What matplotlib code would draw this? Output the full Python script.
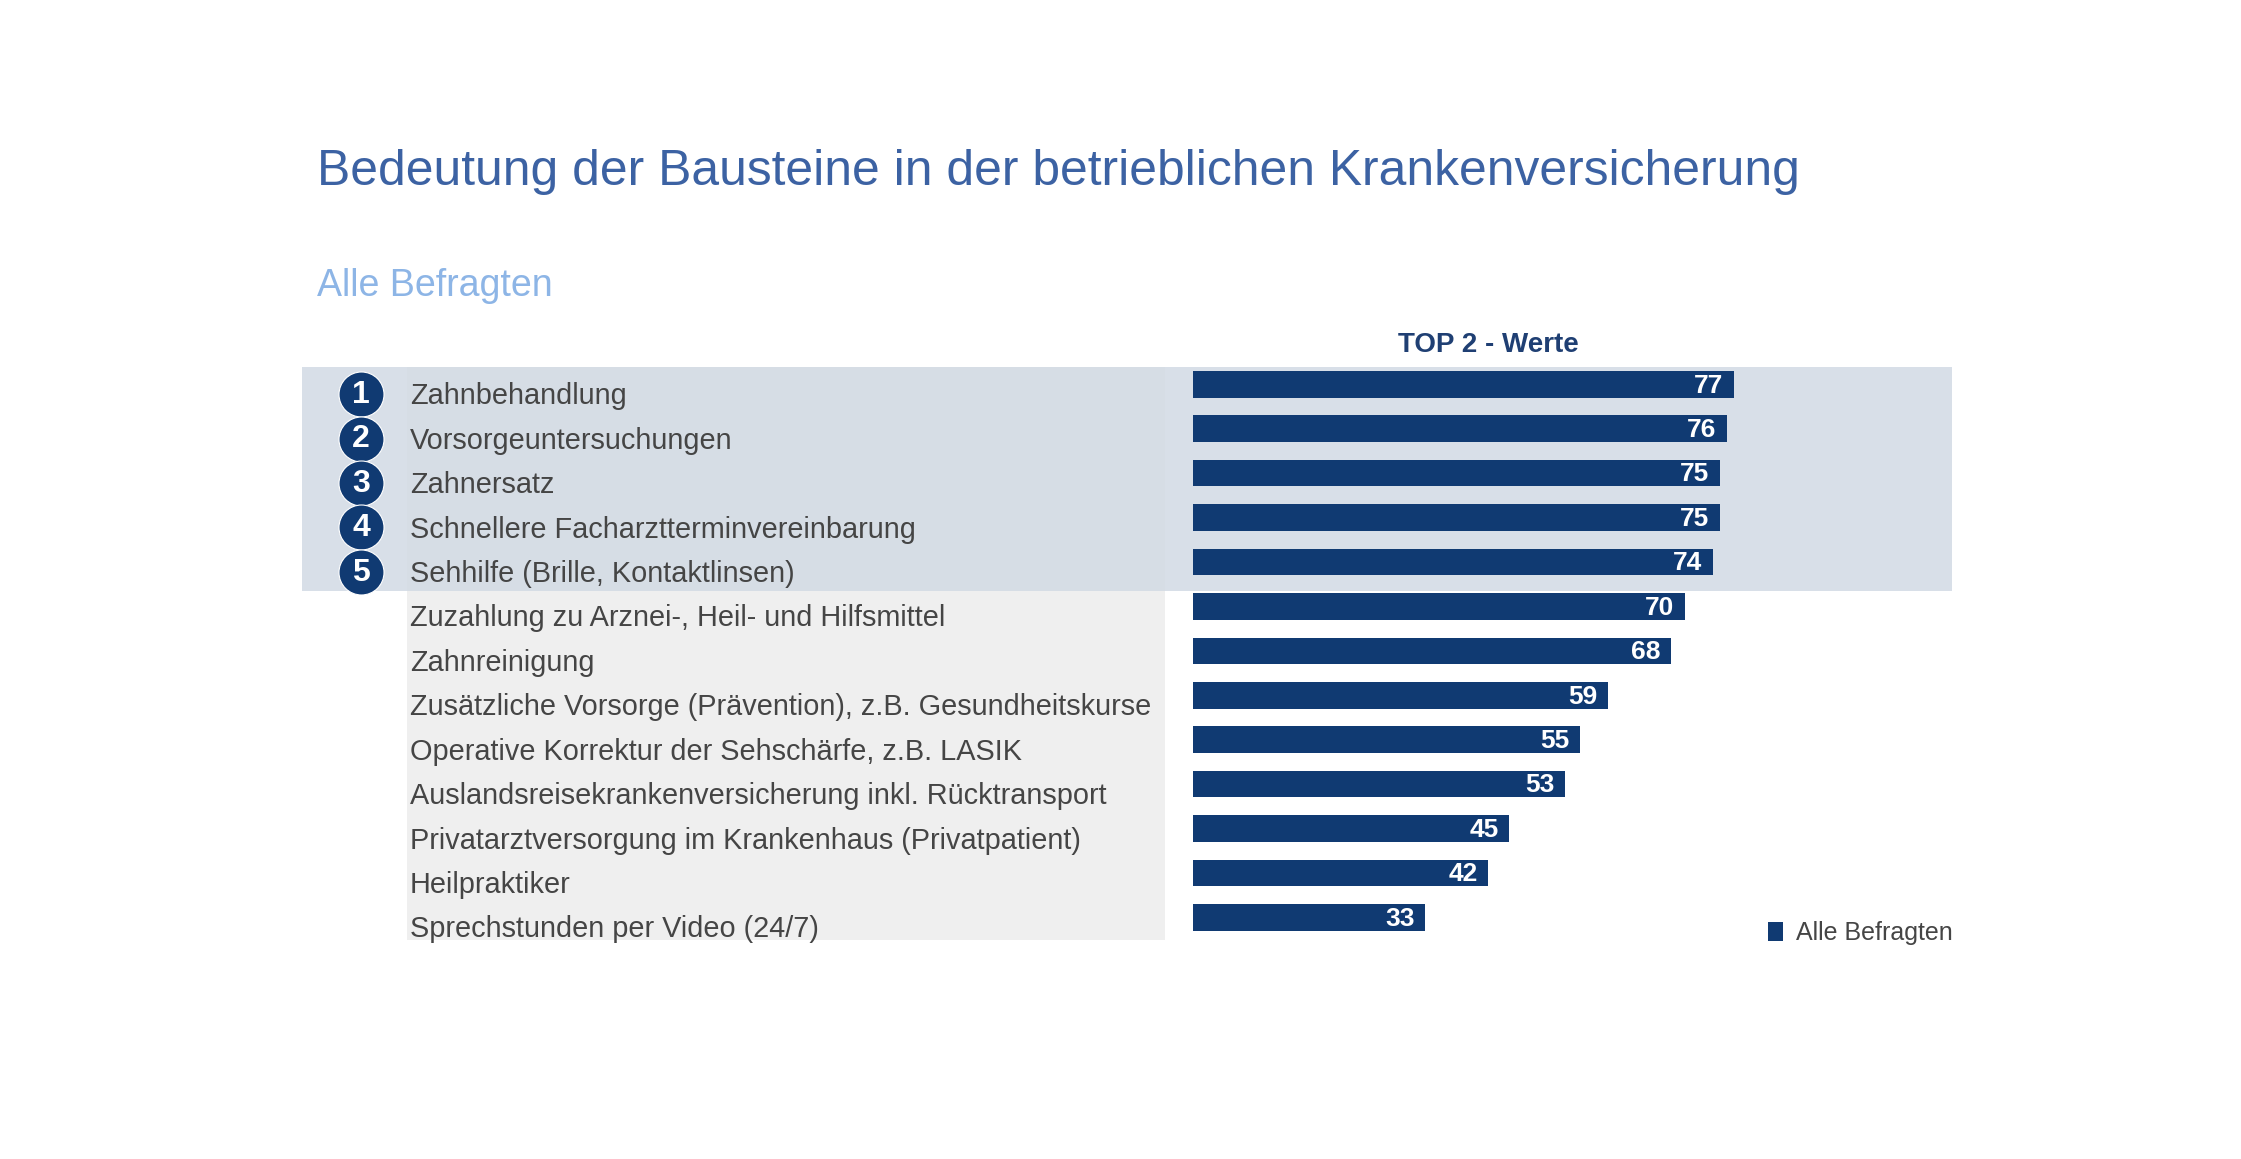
import matplotlib.pyplot as plt
from matplotlib.patches import Patch, Rectangle

# Daten
categories = [
    "Zahnbehandlung",
    "Vorsorgeuntersuchungen",
    "Zahnersatz",
    "Schnellere Facharztterminvereinbarung",
    "Sehhilfe (Brille, Kontaktlinsen)",
    "Zuzahlung zu Arznei-, Heil- und Hilfsmittel",
    "Zahnreinigung",
    "Zusätzliche Vorsorge (Prävention), z.B. Gesundheitskurse",
    "Operative Korrektur der Sehschärfe, z.B. LASIK",
    "Auslandsreisekrankenversicherung inkl. Rücktransport",
    "Privatarztversorgung im Krankenhaus (Privatpatient)",
    "Heilpraktiker",
    "Sprechstunden per Video (24/7)",
]
values = [77, 76, 75, 75, 74, 70, 68, 59, 55, 53, 45, 42, 33]
ranks = ["1", "2", "3", "4", "5"]

title = "Bedeutung der Bausteine in der betrieblichen Krankenversicherung"
subtitle = "Alle Befragten"
column_head = "TOP 2 - Werte"
legend_label = "Alle Befragten"

NAVY = "#103a72"
BAND = "#d2dae4"
LABEL_BG = "#efefef"
TEXT = "#454545"

plt.rcParams['font.family'] = ['Liberation Sans', 'DejaVu Sans']

W, H = 2241, 1159
fig = plt.figure(figsize=(W / 100, H / 100), dpi=100)
fig.patch.set_facecolor("white")

# Achse für die Balken (Pixelpositionen aus der Vorlage)
left, right, top, bottom = 1193, 1952, 367, 940
ax = fig.add_axes([left / W, 1 - bottom / H, (right - left) / W, (bottom - top) / H])
ax.set_xlim(0, 108)
ax.set_ylim(12.51, -0.39)
ax.axis("off")

def fx(px):
    # Pixel -> Achsenbruchteil in x
    return (px - left) / (right - left)

# Grauer Hintergrund der Beschriftungen
ax.add_patch(Rectangle((fx(407), 0), fx(1165) - fx(407), 1,
                       transform=ax.transAxes, facecolor=LABEL_BG,
                       edgecolor="none", clip_on=False, zorder=0))
# Hervorgehobenes Band für die Top 5
ax.axhspan(-0.39, 4.66, xmin=fx(302), xmax=fx(1952), facecolor=BAND,
           alpha=0.85, edgecolor="none", clip_on=False, zorder=0.5)

y = list(range(len(categories)))
ax.barh(y, values, height=0.6, color=NAVY, zorder=2)

for yi, v in zip(y, values):
    ax.text(v - 1.5, yi + 0.03, str(v), ha="right", va="center", color="white",
            fontsize=19, fontweight="bold", zorder=3)

tr = ax.get_yaxis_transform()
for yi, cat in zip(y, categories):
    ax.text(fx(410), yi + 0.27, cat, transform=tr, ha="left", va="center",
            fontsize=20.8, color=TEXT, zorder=3)

for yi, r in zip(y, ranks):
    ax.scatter([fx(361)], [yi + 0.22], transform=tr, s=1050, color=NAVY,
               edgecolor="white", linewidth=0.8, clip_on=False, zorder=3)
    ax.text(fx(361), yi + 0.24, r, transform=tr, ha="center", va="center",
            fontsize=23, fontweight="bold", color="white", zorder=4)

fig.text(317 / W, 1 - 172 / H, title, ha="left", va="center",
         fontsize=35.8, color="#3c62a3")
fig.text(317 / W, 1 - 286 / H, subtitle, ha="left", va="center",
         fontsize=27, color="#8db5e6")
fig.text(1488 / W, 1 - 345 / H, column_head, ha="center", va="center",
         fontsize=20, fontweight="bold", color="#1f3f73")

ax.legend(handles=[Patch(facecolor=NAVY, label=legend_label)],
          loc="center left", bbox_to_anchor=(1768 / W, 1 - 933 / H),
          bbox_transform=fig.transFigure, frameon=False, fontsize=18,
          handlelength=0.6, handleheight=0.8, handletextpad=0.5,
          borderpad=0, borderaxespad=0, labelcolor=TEXT)

fig.savefig("out.png", dpi=100, facecolor="white")
